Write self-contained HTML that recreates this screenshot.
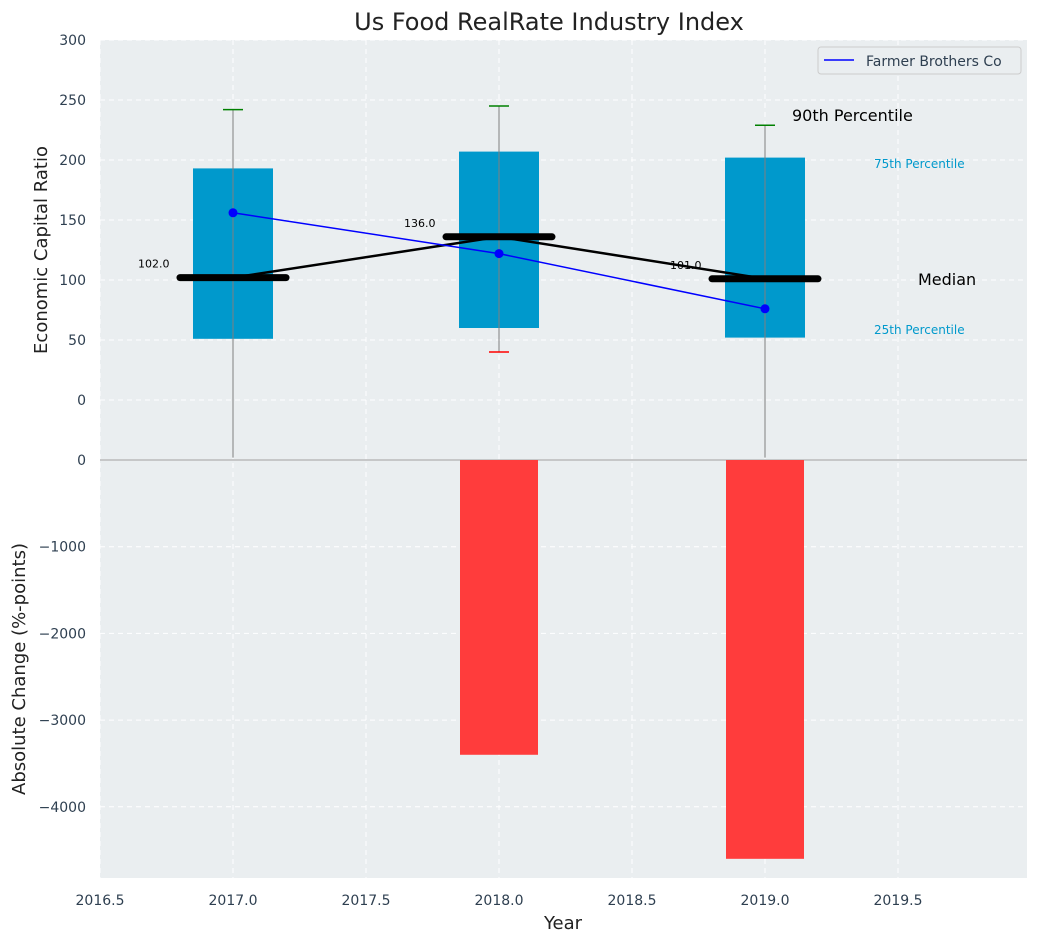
<!DOCTYPE html>
<html><head><meta charset="utf-8"><style>
body{margin:0;background:#fff;font-family:"Liberation Sans","DejaVu Sans",sans-serif}
svg text{font-family:"DejaVu Sans","Liberation Sans",sans-serif}
</style></head><body>
<svg id="chart" width="1039" height="942" xmlns="http://www.w3.org/2000/svg"></svg>
<script>
const years=[2017,2018,2019];
const q25=[51,60,52];
const q75=[193,207,202];
const medians=[102,136,101];
const p90=[242,245,229];
const p10=[-50,40,-50];
const company=[156,122,76];
const changes=[0,-3400,-4600];
const xTicks=[2016.5,2017,2017.5,2018,2018.5,2019,2019.5];
const yTopTicks=[0,50,100,150,200,250,300];
const yBotTicks=[0,-1000,-2000,-3000,-4000];

const NS="http://www.w3.org/2000/svg";
const svg=document.getElementById('chart');
function el(t,a,txt){const e=document.createElementNS(NS,t);for(const k in a)e.setAttribute(k,a[k]);if(txt!==undefined)e.textContent=txt;svg.appendChild(e);return e;}
const X=v=>100+(v-2016.5)*266;
const YT=v=>400-v*1.2;
const YB=v=>460-v*0.0867;
const L=100,R=1027;

let e;
e=el('rect',{x:L,y:40,width:R-L,height:420,fill:'#eaeef0'});

e=el('rect',{x:L,y:460,width:R-L,height:418,fill:'#eaeef0'});


// grid
xTicks.forEach(t=>{
  e=el('line',{x1:X(t),x2:X(t),y1:40,y2:878,stroke:'#fff','stroke-dasharray':'5,4','stroke-width':1});
  
  e=el('text',{x:X(t),y:905,'font-size':14,fill:'#2e3f50','text-anchor':'middle'},t.toFixed(1));
  
});
yTopTicks.forEach(t=>{
  e=el('line',{x1:L,x2:R,y1:YT(t),y2:YT(t),stroke:'#fff','stroke-dasharray':'5,4'});
  
  e=el('text',{x:86,y:YT(t)+5,'font-size':14,fill:'#2e3f50','text-anchor':'end'},String(t));
  
});
yBotTicks.forEach(t=>{
  if(t!==0){e=el('line',{x1:L,x2:R,y1:YB(t),y2:YB(t),stroke:'#fff','stroke-dasharray':'5,4'});
  }
  e=el('text',{x:86,y:YB(t)+5,'font-size':14,fill:'#2e3f50','text-anchor':'end'},t===0?'0':'\u2212'+Math.abs(t));
  
});
e=el('line',{x1:L,x2:R,y1:460,y2:460,stroke:'#b0b0b0','stroke-width':1.2});


// bars
changes.forEach((v,i)=>{
  if(v===0)return;
  e=el('rect',{x:X(years[i])-39,y:460,width:78,height:YB(v)-460,fill:'#ff3c3c'});
  
});

// boxes
years.forEach((y,i)=>{
  const cx=X(y);
  e=el('rect',{x:cx-40,y:YT(q75[i]),width:80,height:YT(q25[i])-YT(q75[i]),fill:'#0099cc'});
  
  const lo=Math.max(p10[i],-48);
  e=el('line',{x1:cx,x2:cx,y1:YT(p90[i]),y2:YT(lo),stroke:'#808080','stroke-width':1});
  
  e=el('line',{x1:cx-10,x2:cx+10,y1:YT(p90[i]),y2:YT(p90[i]),stroke:'green','stroke-width':1.5});
  
  if(p10[i]>-48){e=el('line',{x1:cx-10,x2:cx+10,y1:YT(p10[i]),y2:YT(p10[i]),stroke:'red','stroke-width':1.5});
  }
});
// median line
e=el('polyline',{points:years.map((y,i)=>X(y)+','+YT(medians[i])).join(' '),fill:'none',stroke:'#000','stroke-width':2.5});

years.forEach((y,i)=>{
  const cx=X(y);
  e=el('line',{x1:cx-53,x2:cx+53,y1:YT(medians[i]),y2:YT(medians[i]),stroke:'#000','stroke-width':7,'stroke-linecap':'round'});
  
  e=el('text',{x:cx-95,y:YT(medians[i])-10,'font-size':11,fill:'#000'},medians[i].toFixed(1));
  
});
// company line
e=el('polyline',{points:years.map((y,i)=>X(y)+','+YT(company[i])).join(' '),fill:'none',stroke:'#0000ff','stroke-width':1.5});

years.forEach((y,i)=>{
  e=el('circle',{cx:X(y),cy:YT(company[i]),r:4.5,fill:'#0000ff'});
  
});

// annotations
[['90th Percentile',792,121,16,'#000'],['75th Percentile',874,168,12,'#0099cc'],['Median',918,285,16,'#000'],['25th Percentile',874,334,12,'#0099cc']].forEach(a=>{
  e=el('text',{x:a[1],y:a[2],'font-size':a[3],fill:a[4]},a[0]);
  
});

// legend
e=el('rect',{x:818,y:47,width:203,height:27,fill:'#eaeef0',stroke:'#ccc',rx:3});

e=el('line',{x1:824,x2:854,y1:60,y2:60,stroke:'#0000ff','stroke-width':1.5});

e=el('text',{x:866,y:66,'font-size':14,fill:'#2e3f50'},'Farmer Brothers Co');


// titles
e=el('text',{x:549,y:30,'font-size':24,fill:'#222','text-anchor':'middle'},'Us Food RealRate Industry Index');

e=el('text',{x:563,y:929,'font-size':18,fill:'#222','text-anchor':'middle'},'Year');

e=el('text',{x:0,y:0,'font-size':18,fill:'#222','text-anchor':'middle',transform:'translate(47,250) rotate(-90)'},'Economic Capital Ratio');

e=el('text',{x:0,y:0,'font-size':18,fill:'#222','text-anchor':'middle',transform:'translate(25,669) rotate(-90)'},'Absolute Change (%-points)');

</script>
</body></html>
